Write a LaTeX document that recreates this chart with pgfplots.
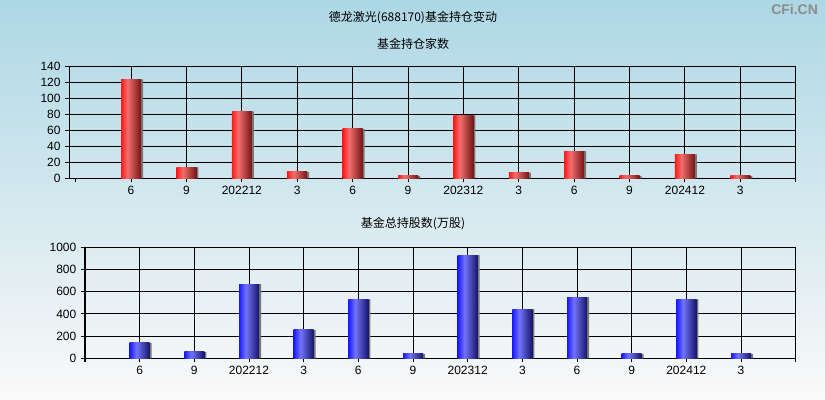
\documentclass[border=0pt]{standalone}
\usepackage{pgfplots}
\pgfplotsset{compat=1.18}
\usepackage{pgfplotstable}
\usepackage{fontspec}
\setmainfont{Liberation Sans}
\newfontfamily\cjk{Noto Sans CJK SC}

\definecolor{bgtop}{RGB}{173,215,229}
\definecolor{bgbot}{RGB}{251,249,249}
\definecolor{rA}{RGB}{255,25,25}
\definecolor{rB}{RGB}{242,110,110}
\definecolor{rC}{RGB}{115,20,20}
\definecolor{bA}{RGB}{25,25,255}
\definecolor{bB}{RGB}{115,115,250}
\definecolor{bC}{RGB}{20,20,105}
\definecolor{shadow}{RGB}{120,120,120}
\definecolor{wm}{RGB}{140,140,140}

\pgfdeclarehorizontalshading{redbar}{100bp}{color(0bp)=(rA); color(25bp)=(rA); color(41bp)=(rB); color(75bp)=(rC); color(100bp)=(rC)}
\pgfdeclarehorizontalshading{bluebar}{100bp}{color(0bp)=(bA); color(25bp)=(bA); color(42bp)=(bB); color(75bp)=(bC); color(100bp)=(bC)}

\pgfplotstableread{
x  n   s
0  124 138
1  14  57
2  84  669
3  8   255
4  62  534
5  3   39
6  79  930
7  7   444
8  34  552
9  3   39
10 30  534
11 3   39
}\fund

\pgfplotsset{
  chartstyle/.style={
    scale only axis,
    anchor=south west,
    axis line style={black, line width=0.75pt},
    tick style={black, line width=0.75pt},
    major tick length=3pt,
    tick align=outside,
    xtick pos=bottom, ytick pos=left,
    xmajorgrids, ymajorgrids,
    grid style={black, line width=0.75pt},
    xtick={0,...,11},
    xticklabels={6,9,202212,3,6,9,202312,3,6,9,202412,3},
    extra x ticks={-1,12},
    extra x tick labels={},
    extra x tick style={grid=none},
    xmax=12,
    ymin=0,
    ticklabel style={font=\fontsize{9pt}{10pt}\selectfont, text=black},
    /pgf/number format/assume math mode=true,
    /pgf/number format/1000 sep={},
    xticklabel style={yshift=1pt},
    clip=false,
  }
}

\begin{document}
\begin{tikzpicture}
\shade[top color=bgtop, bottom color=bgbot] (0,0) rectangle (618.75pt,300pt);

\node[font=\cjk\fontsize{9pt}{10pt}\selectfont] at (309.75pt,286.5pt) {德龙激光(688170)基金持仓变动};
\node[font=\cjk\fontsize{9pt}{10pt}\selectfont] at (309.75pt,267pt) {基金持仓家数};
\node[font=\cjk\fontsize{9pt}{10pt}\selectfont] at (309.75pt,132pt) {基金总持股数(万股)};
\node[font=\bfseries\fontsize{10.5pt}{12pt}\selectfont, text=wm, anchor=east] at (617pt,292.5pt) {CFi.CN};

\begin{axis}[chartstyle,
  at={(51.98pt,166.28pt)},
  width=544.8pt, height=83.7pt,
  xmin=-1.115,
  ymax=140, ytick={0,20,...,140},
]
\addplot[ybar, bar width=15pt, bar shift=1.5pt, fill=shadow, draw=none] table[x=x, y=n] {\fund};
\pgfplotsinvokeforeach{0,...,11}{
  \addplot[ybar, bar width=15pt, bar shift=0pt, shading=redbar, draw=none,
    restrict x to domain=#1:#1] table[x=x, y=n] {\fund};
}
\end{axis}

\begin{axis}[chartstyle,
  at={(63.75pt,31.28pt)},
  width=533pt, height=83.25pt,
  xmin=-1,
  ymax=1000, ytick={0,200,...,1000},
]
\addplot[ybar, bar width=15pt, bar shift=1.5pt, fill=shadow, draw=none] table[x=x, y=s] {\fund};
\pgfplotsinvokeforeach{0,...,11}{
  \addplot[ybar, bar width=15pt, bar shift=0pt, shading=bluebar, draw=none,
    restrict x to domain=#1:#1] table[x=x, y=s] {\fund};
}
\end{axis}
\end{tikzpicture}
\end{document}
